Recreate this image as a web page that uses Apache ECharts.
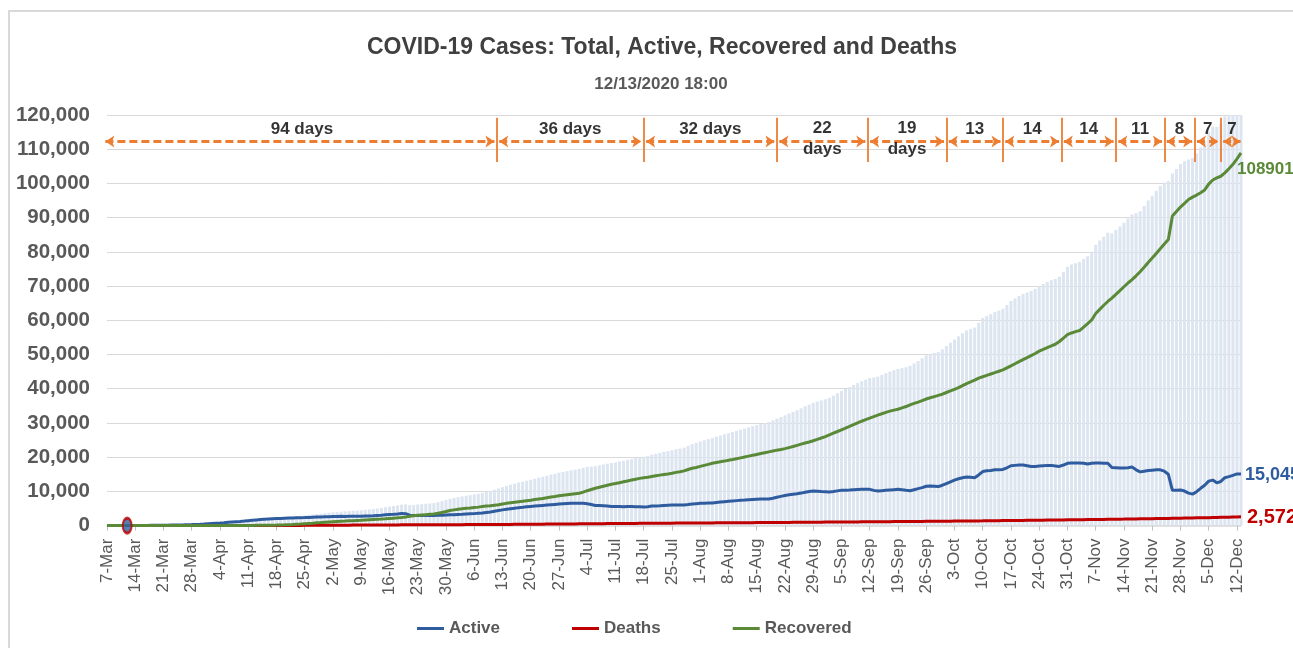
<!DOCTYPE html>
<html>
<head>
<meta charset="utf-8">
<script src="https://cdn.jsdelivr.net/npm/echarts@6/dist/echarts.min.js"></script>
<style>
  html, body { margin: 0; padding: 0; background: #ffffff; }
  #chart { width: 1293px; height: 648px; }
</style>
</head>
<body>
<div id="chart"></div>
<script>
// ---------------- DATA ----------------
const startDate = '2020-03-07';   // first category (7-Mar)

// Active cases, daily from 7-Mar to 13-Dec (one row = one week)
const active = [
  1,1,1,3,6,8,12,
  23,29,36,49,66,80,89,
  109,125,149,175,198,223,255,
  290,330,380,440,520,600,680,
  760,850,950,1040,1130,1220,1330,
  1450,1550,1650,1750,1840,1910,1980,
  2050,2100,2150,2200,2250,2300,2330,
  2360,2400,2440,2480,2520,2560,2600,
  2650,2680,2700,2690,2720,2740,2750,
  2760,2800,2830,2900,2980,3050,3150,
  3250,3330,3420,3550,3500,3050,2980,
  2950,2930,2960,2940,2950,3000,3050,
  3100,3150,3200,3250,3300,3380,3440,
  3500,3600,3700,3850,4000,4200,4400,
  4600,4780,4950,5100,5250,5350,5480,
  5600,5700,5800,5900,6000,6100,6200,
  6300,6380,6450,6500,6550,6560,6500,
  6400,6150,5900,5850,5800,5700,5600,
  5550,5560,5540,5560,5550,5520,5500,
  5450,5480,5700,5750,5800,5900,5950,
  6000,6050,6020,6050,6150,6300,6400,
  6500,6550,6580,6600,6750,6900,7000,
  7100,7200,7300,7400,7450,7550,7650,
  7700,7750,7780,7800,8000,8300,8550,
  8800,9000,9150,9300,9500,9750,9950,
  10100,10050,9950,9900,9800,9950,10150,
  10300,10350,10400,10500,10550,10600,10600,
  10600,10300,10100,10200,10300,10400,10500,
  10600,10450,10300,10200,10500,10800,11100,
  11500,11600,11500,11400,11800,12300,12800,
  13300,13700,14000,14200,14100,14000,14800,
  15800,16000,16100,16300,16300,16400,16900,
  17500,17600,17700,17700,17500,17300,17300,
  17400,17500,17600,17600,17450,17300,17700,
  18200,18300,18300,18300,18200,18000,18200,
  18300,18300,18200,18250,17000,16900,16800,
  16800,16900,17100,16300,15700,15900,16100,
  16200,16300,16300,15900,15000,10300,10300,
  10400,10100,9500,9200,9900,10900,11800,
  13000,13300,12500,12900,14000,14300,14700,
  15100,15045
];

// Deaths, daily
const deaths = [
  0,0,0,0,0,0,0,
  0,0,0,0,1,1,1,
  1,1,1,1,2,2,2,
  2,3,3,4,5,6,8,
  9,10,12,14,15,17,19,
  22,24,27,30,32,35,38,
  40,44,48,52,56,60,64,
  70,75,80,86,92,98,104,
  110,116,123,130,137,144,152,
  160,166,172,178,184,190,195,
  200,204,208,213,218,222,226,
  230,234,238,242,247,251,255,
  260,266,272,278,284,290,295,
  300,306,312,318,324,330,335,
  340,348,356,365,374,383,392,
  400,408,416,425,434,443,452,
  460,470,480,490,500,510,520,
  530,540,550,560,570,580,590,
  600,608,617,626,635,644,652,
  660,668,677,686,695,704,712,
  720,727,734,741,748,756,763,
  770,777,784,791,798,806,813,
  820,827,834,841,848,856,863,
  870,878,887,896,905,914,922,
  930,938,947,956,965,974,982,
  990,998,1007,1016,1025,1034,1042,
  1050,1058,1067,1076,1085,1094,1102,
  1110,1118,1127,1136,1145,1154,1162,
  1170,1180,1190,1200,1210,1220,1230,
  1240,1250,1260,1270,1280,1290,1300,
  1310,1321,1332,1344,1356,1368,1379,
  1390,1403,1416,1429,1442,1455,1467,
  1480,1494,1508,1522,1537,1552,1566,
  1580,1594,1608,1622,1637,1652,1666,
  1680,1694,1708,1722,1737,1752,1766,
  1780,1797,1814,1831,1848,1865,1883,
  1900,1918,1936,1955,1974,1993,2011,
  2030,2050,2070,2090,2110,2130,2150,
  2170,2192,2214,2236,2258,2280,2300,
  2320,2350,2380,2410,2440,2470,2510,
  2545,2572
];

// Recovered, daily
const recovered = [
  0,0,0,0,0,0,0,
  0,0,0,0,0,0,0,
  1,1,1,2,2,2,3,
  3,4,4,8,10,15,20,
  25,28,30,33,35,38,42,
  50,60,70,80,95,110,130,
  150,190,230,280,330,400,470,
  550,630,710,800,880,980,1070,
  1150,1210,1270,1330,1390,1450,1500,
  1550,1640,1710,1780,1850,1920,2000,
  2100,2180,2260,2350,2480,2700,2850,
  3000,3100,3200,3300,3400,3600,3850,
  4100,4400,4600,4800,4950,5050,5150,
  5300,5400,5550,5700,5800,5950,6100,
  6300,6500,6650,6800,6950,7100,7250,
  7400,7600,7800,7950,8150,8350,8500,
  8700,8850,9000,9150,9300,9450,9800,
  10200,10550,10900,11200,11500,11800,12100,
  12300,12550,12800,13050,13300,13550,13800,
  14000,14150,14350,14550,14750,14950,15100,
  15300,15550,15760,16000,16400,16750,17000,
  17300,17600,17900,18200,18450,18650,18850,
  19100,19300,19550,19800,20050,20300,20550,
  20800,21050,21300,21550,21800,22050,22250,
  22500,22800,23100,23450,23800,24150,24450,
  24800,25200,25600,26000,26500,27000,27500,
  28000,28500,29000,29500,30000,30500,30950,
  31400,31850,32300,32700,33100,33450,33750,
  34000,34400,34800,35300,35700,36100,36550,
  37000,37350,37700,38050,38400,38900,39350,
  39800,40300,40900,41500,42000,42500,43100,
  43500,43900,44300,44700,45100,45500,46100,
  46700,47300,47900,48500,49100,49700,50300,
  51000,51500,52000,52500,53000,53800,54800,
  55800,56300,56700,57000,58000,59000,60100,
  62000,63200,64400,65500,66500,67600,68700,
  69800,70900,71900,73000,74200,75500,76900,
  78200,79500,80900,82300,83600,90500,91800,
  93100,94200,95300,96000,96600,97300,98100,
  99800,101000,101600,102100,103100,104300,105600,
  107200,108901
];

// Annotation: day-count spans (boundaries in days since 7-Mar)
const spanBounds = [-1, 96.6, 133, 166, 188.5, 208, 222, 236.5, 250, 262, 269.5, 276, 281.5];
const spanLabels = ['94 days', '36 days', '32 days', '22\ndays', '19\ndays', '13', '14', '14', '11', '8', '7', '7'];

// Circled first point marker
const markerPoint = ['12-Mar', 0];

// ---------------- BUILD ----------------
const MONTHS = ['Jan','Feb','Mar','Apr','May','Jun','Jul','Aug','Sep','Oct','Nov','Dec'];
const categories = [];
{
  const d0 = new Date(startDate + 'T00:00:00Z');
  for (let i = 0; i < active.length; i++) {
    const d = new Date(d0.getTime() + i * 86400000);
    categories.push(d.getUTCDate() + '-' + MONTHS[d.getUTCMonth()]);
  }
}
const total = active.map((v, i) => v + deaths[i] + recovered[i]);
const N = categories.length;
const last = N - 1;
const fmt = v => Number(v).toLocaleString('en-US');

const FONT = "'Liberation Sans', Arial, Helvetica, sans-serif";
const ORANGE = '#ED7D31';
const ARROW_Y = 112250;
const VLINE_Y0 = 106300, VLINE_Y1 = 119200;

const arrowData = [];
const labelData = [];
for (let i = 0; i < spanLabels.length; i++) {
  const a = spanBounds[i], b = spanBounds[i + 1];
  arrowData.push({ coords: [[a + 0.6, ARROW_Y], [b - 0.6, ARROW_Y]] });
  const mid = (Math.max(a, 0) + b) / 2;
  const two = spanLabels[i].indexOf('\n') >= 0;
  labelData.push({ name: spanLabels[i], value: [mid, two ? 112900 : 115700] });
}
const vlineData = spanBounds.slice(1, -1).map(b => ({ coords: [[b, VLINE_Y0], [b, VLINE_Y1]] }));

const chart = echarts.init(document.getElementById('chart'), null, { renderer: 'canvas' });

const option = {
  animation: false,
  backgroundColor: '#ffffff',
  textStyle: { fontFamily: FONT },
  graphic: [{
    type: 'rect', z: -10, silent: true,
    shape: { x: 9, y: 11, width: 1400, height: 700 },
    style: { fill: 'none', stroke: '#d9d9d9', lineWidth: 2 }
  }],
  title: [
    { text: 'COVID-19 Cases: Total, Active, Recovered and Deaths', left: 657, textAlign: 'center', top: 31,
      textStyle: { fontSize: 23, fontWeight: 'bold', color: '#404040', fontFamily: FONT } },
    { text: '12/13/2020 18:00', left: 656, textAlign: 'center', top: 71,
      textStyle: { fontSize: 17, fontWeight: 'bold', color: '#595959', fontFamily: FONT } }
  ],
  legend: {
    data: ['Active', 'Deaths', 'Recovered'],
    left: 412, top: 615,
    icon: 'rect', itemWidth: 27, itemHeight: 3, itemGap: 72,
    textStyle: { fontSize: 17, fontWeight: 'bold', color: '#595959', fontFamily: FONT }
  },
  grid: { left: 107, right: 52, top: 115, bottom: 122.4, containLabel: false },
  xAxis: [
    {
      type: 'category', data: categories, boundaryGap: false,
      axisLine: { lineStyle: { color: '#d9d9d9', width: 1.5 } },
      axisTick: { show: true, interval: 6, length: 5, lineStyle: { color: '#bfbfbf' } },
      axisLabel: { interval: 6, rotate: 90, fontSize: 17, color: '#595959', margin: 13, fontFamily: FONT },
      splitLine: { show: false }
    },
    { type: 'value', min: 0, max: N - 1, show: false }
  ],
  yAxis: {
    type: 'value', min: 0, max: 120000, interval: 10000,
    axisLine: { show: false }, axisTick: { show: false },
    axisLabel: { fontSize: 20.5, fontWeight: 'bold', color: '#595959', margin: 17, formatter: v => fmt(v), fontFamily: FONT },
    splitLine: { lineStyle: { color: '#d9d9d9', width: 1 } }
  },
  series: [
    {
      name: 'Total', type: 'bar', data: total, barWidth: 3,
      itemStyle: { color: '#dce5f0' }, z: 1, silent: true
    },
    {
      name: 'Active', type: 'line', data: active, symbol: 'none', z: 3,
      lineStyle: { color: '#2f5c9e', width: 3 }, itemStyle: { color: '#2f5c9e' },
      markPoint: {
        symbol: 'circle', symbolSize: 0, silent: true,
        data: [{ coord: [categories[last], active[last]], value: active[last] }],
        label: { show: true, position: 'right', offset: [-1, 1], formatter: fmt(active[last]),
          fontSize: 18, fontWeight: 'bold', color: '#2f5c9e', fontFamily: FONT }
      }
    },
    {
      name: 'Deaths', type: 'line', data: deaths, symbol: 'none', z: 3,
      lineStyle: { color: '#c00000', width: 3 }, itemStyle: { color: '#c00000' },
      markPoint: {
        symbol: 'circle', symbolSize: 0, silent: true,
        data: [{ coord: [categories[last], deaths[last]], value: deaths[last] }],
        label: { show: true, position: 'right', offset: [1, 1], formatter: fmt(deaths[last]),
          fontSize: 20, fontWeight: 'bold', color: '#c00000', fontFamily: FONT }
      }
    },
    {
      name: 'Recovered', type: 'line', data: recovered, symbol: 'none', z: 4,
      lineStyle: { color: '#5a8a38', width: 3 }, itemStyle: { color: '#5a8a38' },
      markPoint: {
        symbol: 'circle', symbolSize: 0, silent: true,
        data: [{ coord: [categories[last], recovered[last]], value: recovered[last] }],
        label: { show: true, position: 'right', offset: [-9, 16], formatter: String(recovered[last]),
          fontSize: 17, fontWeight: 'bold', color: '#5a8a38', fontFamily: FONT }
      }
    },
    {
      name: 'marker', type: 'scatter', data: [markerPoint], z: 10, silent: true,
      symbol: 'circle', symbolSize: [9, 15],
      itemStyle: { color: '#2f5c9e', borderColor: '#c00000', borderWidth: 2.5 }
    },
    {
      name: 'spans', type: 'lines', coordinateSystem: 'cartesian2d', xAxisIndex: 1, yAxisIndex: 0,
      clip: false, silent: true, z: 6,
      symbol: ['arrow', 'arrow'], symbolSize: 9,
      lineStyle: { color: ORANGE, width: 2.8, type: [8, 4], opacity: 1 },
      data: arrowData
    },
    {
      name: 'separators', type: 'lines', coordinateSystem: 'cartesian2d', xAxisIndex: 1, yAxisIndex: 0,
      clip: false, silent: true, z: 6, symbol: 'none',
      lineStyle: { color: ORANGE, width: 1.8, type: 'solid', opacity: 1 },
      data: vlineData
    },
    {
      name: 'spanLabels', type: 'scatter', xAxisIndex: 1, yAxisIndex: 0, z: 7, silent: true,
      symbolSize: 1, itemStyle: { color: 'rgba(0,0,0,0)' },
      label: { show: true, position: 'inside', formatter: '{b}', fontSize: 17, fontWeight: 'bold',
        color: '#000000', lineHeight: 21, fontFamily: FONT },
      data: labelData
    }
  ]
};
chart.setOption(option);
</script>
</body>
</html>
